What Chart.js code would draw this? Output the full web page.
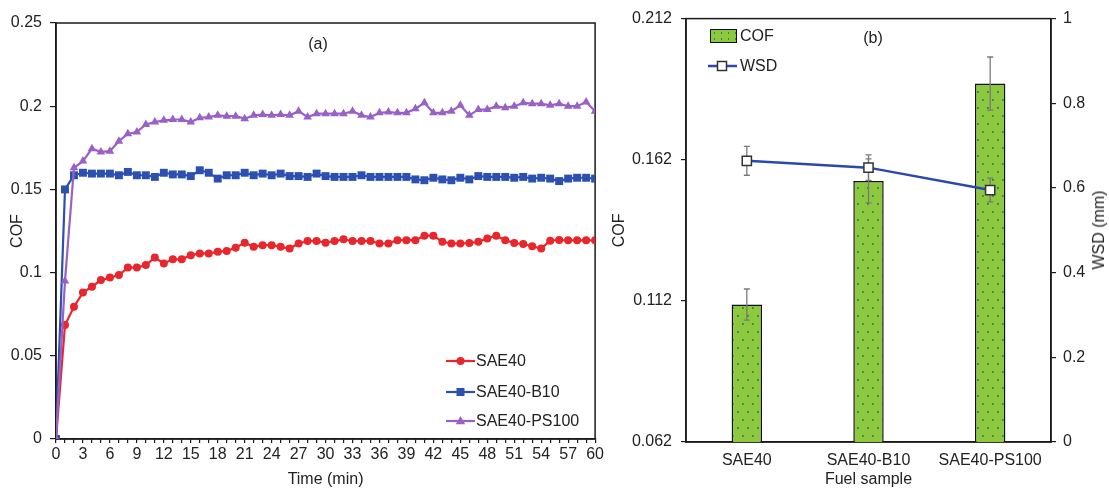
<!DOCTYPE html>
<html><head><meta charset="utf-8">
<script src="https://cdn.jsdelivr.net/npm/chart.js@4.4.0/dist/chart.umd.min.js"></script>
<style>
html,body{margin:0;padding:0;background:#fff;}
body{width:1109px;height:489px;position:relative;overflow:hidden;font-family:"Liberation Sans",Arial,sans-serif;color:#222;}
canvas{position:absolute;top:0;}
#c1{left:0;} #c2{left:600px;}
.t{position:absolute;font-size:16px;line-height:18px;white-space:nowrap;color:#222;}
svg{position:absolute;overflow:visible;}
</style></head><body>
<canvas id="c1" width="606" height="489"></canvas>
<canvas id="c2" width="509" height="489"></canvas>

<div class="t" style="left:318px;top:35px;transform:translateX(-50%)">(a)</div>
<div class="t" style="left:873px;top:29px;transform:translateX(-50%)">(b)</div>
<div class="t" style="left:1099px;top:230px;transform:translate(-50%,-50%) rotate(-90deg)">WSD (mm)</div>

<!-- legend (a) -->
<svg style="left:446px;top:352px" width="30" height="18"><line x1="0" y1="9" x2="29" y2="9" stroke="#E8262B" stroke-width="2.2"/><circle cx="14.5" cy="9" r="4" fill="#E8262B"/></svg>
<div class="t" style="left:476px;top:352px">SAE40</div>
<svg style="left:446px;top:383px" width="30" height="18"><line x1="0" y1="9" x2="29" y2="9" stroke="#2B50B0" stroke-width="2.2"/><rect x="10.5" y="5" width="8" height="8" fill="#2B50B0"/></svg>
<div class="t" style="left:476px;top:383px">SAE40-B10</div>
<svg style="left:446px;top:412px" width="30" height="18"><line x1="0" y1="9" x2="29" y2="9" stroke="#9960C8" stroke-width="2.2"/><polygon points="14.5,4 19.2,12.2 9.8,12.2" fill="#9960C8"/></svg>
<div class="t" style="left:476px;top:412px">SAE40-PS100</div>

<!-- legend (b) -->
<div style="position:absolute;left:710px;top:29px;width:27px;height:14px;box-sizing:border-box;border:1.5px solid #111;background-color:#8DC83F;background-image:radial-gradient(#1E8E5A 0.8px, transparent 1.1px);background-size:7px 6px;"></div>
<div class="t" style="left:740px;top:27px">COF</div>
<svg style="left:708px;top:57px" width="30" height="18"><line x1="0" y1="9" x2="29" y2="9" stroke="#2A48B0" stroke-width="2.5"/><rect x="9.5" y="4.5" width="9" height="9" fill="#fff" stroke="#333" stroke-width="1.5"/></svg>
<div class="t" style="left:740px;top:57px">WSD</div>

<script>
// ---------- DATA ----------
const minutes = [0,1,2,3,4,5,6,7,8,9,10,11,12,13,14,15,16,17,18,19,20,21,22,23,24,25,26,27,28,29,30,31,32,33,34,35,36,37,38,39,40,41,42,43,44,45,46,47,48,49,50,51,52,53,54,55,56,57,58,59,60];
const timeTickLabels = [0,3,6,9,12,15,18,21,24,27,30,33,36,39,42,45,48,51,54,57,60];
const cofTicksA = [0,0.05,0.1,0.15,0.2,0.25];

const sae40 = [0,0.0685,0.0795,0.088,0.0915,0.0955,0.097,0.0985,0.103,0.103,0.1045,0.109,0.1055,0.108,0.108,0.1105,0.1115,0.1115,0.1125,0.113,0.115,0.118,0.1155,0.1165,0.1165,0.1155,0.1145,0.1175,0.119,0.119,0.118,0.119,0.12,0.119,0.119,0.119,0.1175,0.1175,0.1195,0.1195,0.1195,0.1222,0.1222,0.1185,0.1175,0.1175,0.1178,0.1185,0.1205,0.1222,0.1195,0.1178,0.1172,0.1158,0.1145,0.1192,0.1196,0.1194,0.1194,0.1194,0.1194];
const sae40B10 = [0,0.150,0.1585,0.160,0.1595,0.1595,0.1595,0.1585,0.1605,0.1585,0.1585,0.1575,0.160,0.159,0.159,0.158,0.1615,0.160,0.1565,0.1585,0.1585,0.160,0.1585,0.1595,0.1585,0.1595,0.158,0.158,0.1575,0.1595,0.158,0.1575,0.1575,0.1575,0.1585,0.1575,0.1575,0.1575,0.1575,0.1575,0.156,0.1555,0.157,0.156,0.1555,0.157,0.156,0.158,0.1575,0.1575,0.1575,0.157,0.1575,0.1565,0.157,0.1565,0.155,0.1565,0.157,0.157,0.1565];
const sae40PS100 = [0,0.095,0.163,0.167,0.1745,0.1725,0.173,0.179,0.1835,0.1845,0.189,0.1905,0.1915,0.192,0.192,0.1905,0.193,0.1935,0.1945,0.194,0.194,0.1925,0.1945,0.195,0.1945,0.195,0.1945,0.197,0.1935,0.1955,0.1955,0.1955,0.1955,0.197,0.1945,0.1935,0.196,0.1965,0.196,0.196,0.1985,0.202,0.196,0.196,0.197,0.2005,0.1945,0.198,0.198,0.2,0.199,0.2,0.202,0.2015,0.2015,0.2005,0.2015,0.2,0.2,0.2025,0.197];

const fuelSamples = ['SAE40','SAE40-B10','SAE40-PS100'];
const cofMean = [0.1107,0.1545,0.189];
const cofErr  = [0.0055,0.0078,0.0094];
const wsdMean = [0.664,0.648,0.595];
const wsdErr  = [0.034,0.030,0.028];
const cofTicksB = [0.062,0.112,0.162,0.212];
const wsdTicks = [0,0.2,0.4,0.6,0.8,1];

// ---------- STYLE ----------
const FONT = {family:'"Liberation Sans", Arial, sans-serif', size:16};
const TXT = '#222';
const AX = '#1a1a1a';
const fmt = v => String(+(+v).toFixed(3));

const boxPlugin = {id:'box', beforeDatasetsDraw(chart){
  const {ctx, chartArea:a} = chart;
  ctx.save(); ctx.strokeStyle = AX; ctx.lineWidth = 1.5;
  ctx.strokeRect(a.left, a.top, a.right-a.left, a.bottom-a.top);
  ctx.restore();
}};

function pts(arr){ return minutes.map((m,i)=>({x:m, y:arr[i]})); }

new Chart(document.getElementById('c1'), {
  type:'line',
  data:{datasets:[
    {label:'SAE40', data:pts(sae40), borderColor:'#E8262B', backgroundColor:'#E8262B', pointStyle:'circle', pointRadius:4, pointBorderWidth:0, borderWidth:2.2, order:3},
    {label:'SAE40-B10', data:pts(sae40B10), borderColor:'#2B50B0', backgroundColor:'#2B50B0', pointStyle:'rect', pointRadius:5.6, pointBorderWidth:0, borderWidth:2.2, order:2},
    {label:'SAE40-PS100', data:pts(sae40PS100), borderColor:'#9960C8', backgroundColor:'#9960C8', pointStyle:'triangle', pointRadius:5, pointBorderWidth:0, borderWidth:2.2, order:1}
  ]},
  options:{
    responsive:false, animation:false,
    layout:{padding:{top:23,right:10,left:0,bottom:0}},
    elements:{line:{tension:0}},
    plugins:{legend:{display:false}, tooltip:{enabled:false}},
    scales:{
      x:{type:'linear', min:0, max:60,
        afterBuildTicks(s){ s.ticks = minutes.map(v=>({value:v})); },
        afterFit(s){ s.height = 50; },
        ticks:{autoSkip:false, maxRotation:0, padding:2, font:FONT, color:TXT,
          callback:v => timeTickLabels.includes(v) ? String(v) : ''},
        grid:{drawOnChartArea:false, drawTicks:true, tickLength:4, color:AX, lineWidth:1.2},
        border:{display:true, color:AX, width:1.5},
        title:{display:true, text:'Time (min)', font:FONT, color:TXT, padding:{top:0,bottom:0}}
      },
      y:{min:0, max:0.25,
        afterBuildTicks(s){ s.ticks = cofTicksA.map(v=>({value:v})); },
        afterFit(s){ s.width = 56; },
        ticks:{padding:8, font:FONT, color:TXT, callback:fmt},
        grid:{drawOnChartArea:false, drawTicks:true, tickLength:6, color:AX, lineWidth:1.2},
        border:{display:true, color:AX, width:1.5},
        title:{display:true, text:'COF', font:FONT, color:TXT, padding:{top:8,bottom:0}}
      }
    }
  },
  plugins:[boxPlugin]
});

// bar pattern
const ctx2 = document.getElementById('c2').getContext('2d');
const tile = document.createElement('canvas'); tile.width = 10; tile.height = 16;
const tg = tile.getContext('2d');
tg.fillStyle = '#8DC83F'; tg.fillRect(0,0,10,16);
tg.fillStyle = '#1A8A55'; tg.fillRect(2,3,1.8,1.8); tg.fillRect(7,11,1.8,1.8);
const barPattern = ctx2.createPattern(tile, 'repeat');

const errPlugin = {id:'err', afterDatasetDraw(chart, args){
  if (args.index !== 0) return;
  const {ctx} = chart; const x = chart.scales.x, y = chart.scales.y, y2 = chart.scales.y2;
  ctx.save(); ctx.strokeStyle = '#7a7a7a'; ctx.lineWidth = 1.3;
  const bar = (px, a, b) => {
    ctx.beginPath();
    ctx.moveTo(px, a); ctx.lineTo(px, b);
    ctx.moveTo(px-3, a); ctx.lineTo(px+3, a);
    ctx.moveTo(px-3, b); ctx.lineTo(px+3, b);
    ctx.stroke();
  };
  fuelSamples.forEach((_, i) => {
    const px = x.getPixelForValue(i);
    bar(px, y.getPixelForValue(cofMean[i]+cofErr[i]), y.getPixelForValue(cofMean[i]-cofErr[i]));
    bar(px, y2.getPixelForValue(wsdMean[i]+wsdErr[i]), y2.getPixelForValue(wsdMean[i]-wsdErr[i]));
  });
  ctx.restore();
}};

new Chart(ctx2, {
  type:'bar',
  data:{labels:fuelSamples, datasets:[
    {type:'bar', label:'COF', data:cofMean, yAxisID:'y', backgroundColor:barPattern, borderColor:'#111', borderWidth:1.5, barPercentage:0.25, categoryPercentage:1, order:1},
    {type:'line', label:'WSD', data:wsdMean, yAxisID:'y2', borderColor:'#2A48B0', borderWidth:2.5, tension:0,
      pointStyle:'rect', pointRadius:6.5, pointBackgroundColor:'#fff', pointBorderColor:'#333', pointBorderWidth:1.5, order:0}
  ]},
  options:{
    responsive:false, animation:false,
    layout:{padding:{top:17,right:0,left:0,bottom:0}},
    plugins:{legend:{display:false}, tooltip:{enabled:false}},
    scales:{
      x:{type:'category',
        afterFit(s){ s.height = 47; },
        ticks:{padding:9, font:FONT, color:TXT, maxRotation:0},
        grid:{display:false, drawTicks:false},
        border:{display:true, color:AX, width:1.5},
        title:{display:true, text:'Fuel sample', font:FONT, color:TXT, padding:{top:0,bottom:0}}
      },
      y:{position:'left', min:0.062, max:0.212,
        afterBuildTicks(s){ s.ticks = cofTicksB.map(v=>({value:v})); },
        afterFit(s){ s.width = 86; },
        ticks:{padding:9, font:FONT, color:TXT, callback:fmt},
        grid:{drawOnChartArea:false, drawTicks:true, tickLength:5, color:AX, lineWidth:1.2},
        border:{display:true, color:AX, width:1.5},
        title:{display:true, text:'COF', font:FONT, color:TXT, padding:{top:10,bottom:0}}
      },
      y2:{position:'right', min:0, max:1,
        afterBuildTicks(s){ s.ticks = wsdTicks.map(v=>({value:v})); },
        afterFit(s){ s.width = 58; },
        ticks:{padding:7, font:FONT, color:TXT, callback:fmt},
        grid:{drawOnChartArea:false, drawTicks:true, tickLength:5, color:AX, lineWidth:1.2},
        border:{display:true, color:AX, width:1.5}
      }
    }
  },
  plugins:[boxPlugin, errPlugin]
});
</script>
</body></html>
